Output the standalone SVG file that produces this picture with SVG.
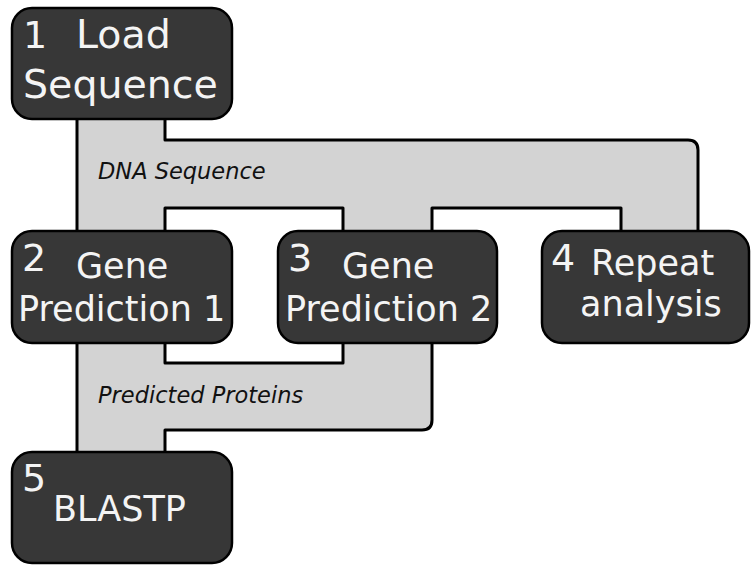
<svg xmlns="http://www.w3.org/2000/svg" width="751" height="565" viewBox="0 0 751 565">
  <style>
    .flow { fill: #d3d3d3; stroke: #000; stroke-width: 3; stroke-linejoin: round; }
    .box { fill: #373737; stroke: #000; stroke-width: 2.5; }
    .num { fill: #f4f4f4; font-family: "DejaVu Sans", "Liberation Sans", sans-serif; font-size: 38px; }
    .lbl { fill: #f4f4f4; font-family: "DejaVu Sans", "Liberation Sans", sans-serif; font-size: 35px; }
    .lbl-big { fill: #f4f4f4; font-family: "DejaVu Sans", "Liberation Sans", sans-serif; font-size: 39.5px; }
    .data { fill: #111; font-family: "DejaVu Sans", "Liberation Sans", sans-serif; font-size: 22.5px; font-style: italic; }
  </style>
  <rect width="751" height="565" fill="#ffffff"/>

  <!-- data flows (drawn under the step boxes) -->
  <g id="connectors">
    <path id="dna-sequence" class="flow" d="M77,118 L77,233 L165,233 L165,208 L343,208 L343,233 L432,233 L432,208 L621,208 L621,233 L698,233 L698,150 Q698,140 688,140 L165,140 L165,118 Z"/>
    <text class="data" x="98" y="179">DNA Sequence</text>
    <path id="predicted-proteins" class="flow" d="M77,341 L77,453 L165,453 L165,430 L422,430 Q432,430 432,420 L432,341 L343,341 L343,363 L165,363 L165,341 Z"/>
    <text class="data" x="98" y="403">Predicted Proteins</text>
  </g>

  <g id="step1">
    <rect class="box" x="12" y="8" width="220" height="111" rx="20"/>
    <text class="num" x="23" y="48">1</text>
    <text class="lbl-big" x="76" y="48">Load</text>
    <text class="lbl-big" x="23" y="98">Sequence</text>
  </g>

  <g id="step2">
    <rect class="box" x="12" y="231" width="220" height="112" rx="20"/>
    <text class="num" x="22" y="271">2</text>
    <text class="lbl" x="76" y="278">Gene</text>
    <text class="lbl" x="18" y="321">Prediction 1</text>
  </g>

  <g id="step3">
    <rect class="box" x="278" y="231" width="219" height="112" rx="20"/>
    <text class="num" x="288" y="271">3</text>
    <text class="lbl" x="342" y="278">Gene</text>
    <text class="lbl" x="285" y="321">Prediction 2</text>
  </g>

  <g id="step4">
    <rect class="box" x="542" y="231" width="207" height="112" rx="20"/>
    <text class="num" x="551" y="271">4</text>
    <text class="lbl" x="591" y="275">Repeat</text>
    <text class="lbl" x="580" y="316">analysis</text>
  </g>

  <g id="step5">
    <rect class="box" x="12" y="452" width="220" height="111" rx="20"/>
    <text class="num" x="22" y="491">5</text>
    <text class="lbl" x="53" y="521">BLASTP</text>
  </g>
</svg>
